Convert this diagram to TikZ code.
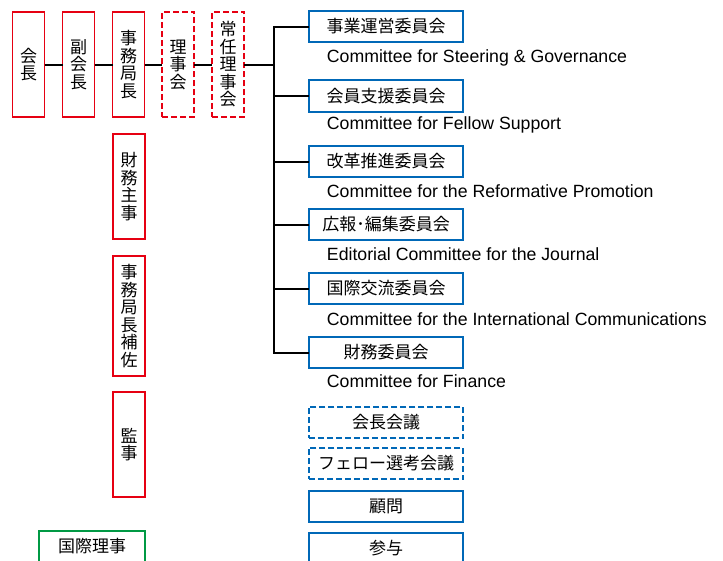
\documentclass[tikz,border=0pt]{standalone}
\usepackage{fontspec}
\setmainfont{Liberation Sans}
\newfontfamily\jp{Noto Sans CJK JP}
\usetikzlibrary{positioning}
\definecolor{bred}{HTML}{E60012}
\definecolor{bblue}{HTML}{0068B7}
\definecolor{bgreen}{HTML}{009944}
\tikzset{
  post/.style={draw=bred,line width=1.8pt,outer sep=0pt,minimum width=32pt,minimum height=105.5pt,inner sep=0pt,align=center,font=\jp\fontsize{17}{17.5}\selectfont},
  postdash/.style={post,dash pattern=on 6pt off 3pt},
  cmte/.style={draw=bblue,line width=1.8pt,outer sep=0pt,minimum width=154.5pt,minimum height=31.5pt,inner sep=0pt,font=\jp\fontsize{17}{20}\selectfont},
  cmtedash/.style={cmte,dash pattern=on 6pt off 3pt},
  eng/.style={anchor=base west,inner sep=0pt,font=\fontsize{17.7}{20}\selectfont},
  link/.style={line width=2pt}
}
\begin{document}
\begin{tikzpicture}[x=1pt,y=-1pt]
\useasboundingbox (0,0) rectangle (723,560);
\node[post](kaicho) at (28.5,64.5){会\\長};
\node[post,right=18pt of kaicho](fuku){副\\会\\長};
\node[post,right=18pt of fuku](kyokucho){事\\務\\局\\長};
\node[postdash,right=17.5pt of kyokucho](riji){理\\事\\会};
\node[postdash,right=18pt of riji](jonin){常\\任\\理\\事\\会};
\coordinate(trunk) at (274,64.5);
\node[post](zaimu) at (129,186.5){財\\務\\主\\事};
\node[post,minimum height=120.5pt](hosa) at (129,316){事\\務\\局\\長\\補\\佐};
\node[post](kanji) at (129,444.5){監\\事};
\node[post,draw=bgreen,minimum width=106.5pt,minimum height=31.5pt](kokusai) at (92,546.5){国際理事};
\node[cmte](c1) at (386,26.5){事業運営委員会};
\node[cmte](c2) at (386,96){会員支援委員会};
\node[cmte](c3) at (386,161.5){改革推進委員会};
\node[cmte](c4) at (386,224.5){広報･編集委員会};
\node[cmte](c5) at (386,288.5){国際交流委員会};
\node[cmte](c6) at (386,352.5){財務委員会};
\node[eng](e1) at ([xshift=18pt,yshift=-20pt]c1.south west){Committee for Steering \& Governance};
\node[eng](e2) at ([xshift=18pt,yshift=-18pt]c2.south west){Committee for Fellow Support};
\node[eng](e3) at ([xshift=18pt,yshift=-20pt]c3.south west){Committee for the Reformative Promotion};
\node[eng](e4) at ([xshift=18pt,yshift=-20pt]c4.south west){Editorial Committee for the Journal};
\node[eng](e5) at ([xshift=18pt,yshift=-21pt]c5.south west){Committee for the International Communications};
\node[eng](e6) at ([xshift=18pt,yshift=-19pt]c6.south west){Committee for Finance};
\node[cmtedash](kaigi) at (386,422.5){会長会議};
\node[cmtedash](senko) at (386,463.5){フェロー選考会議};
\node[cmte](komon) at (386,506.5){顧問};
\node[cmte](sanyo) at (386,548.5){参与};
\draw[link](kaicho)--(fuku)--(kyokucho)--(riji)--(jonin)--(trunk);
\draw[link](c1.west)-|(trunk)|-(c6.west);
\foreach \c in {c2,c3,c4,c5}
  \draw[link](\c.west)--(\c.west-|trunk);
\end{tikzpicture}
\end{document}
